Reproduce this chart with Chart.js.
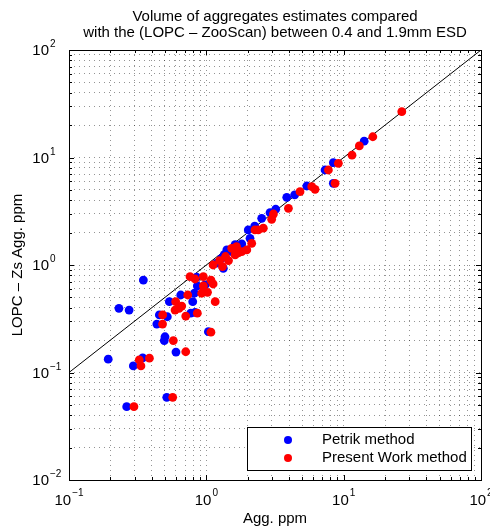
<!DOCTYPE html>
<html>
<head>
<meta charset="utf-8">
<script src="https://cdn.jsdelivr.net/npm/chart.js@4.4.1/dist/chart.umd.min.js"></script>
<style>
  html, body { margin: 0; padding: 0; background: #fff; }
  canvas { display: block; }
</style>
</head>
<body>
<canvas id="chart" width="490" height="531"></canvas>
<script>
// Petrik method (blue)
const petrikX = [0.348, 0.231, 0.274, 0.193, 0.294, 0.344, 0.263, 0.515, 0.601, 0.500,
                 0.494, 0.436, 0.455, 0.520, 0.538, 0.651, 0.796, 0.818, 0.770, 0.827,
                 0.860, 0.979, 0.851, 1.035, 1.19, 1.33, 1.29, 1.41, 1.53, 1.81,
                 2.02, 2.08, 2.53, 2.91, 3.85, 5.39, 8.41, 7.32, 14.1, 8.41,
                 1.35, 1.62, 2.25, 3.2, 4.4];
const petrikY = [0.724, 0.395, 0.381, 0.133, 0.115, 0.137, 0.0481, 0.0588, 0.155, 0.215,
                 0.198, 0.282, 0.343, 0.330, 0.456, 0.526, 0.456, 0.546, 0.356, 0.363,
                 0.638, 0.652, 0.769, 0.240, 1.04, 0.931, 1.15, 1.38, 1.33, 1.57,
                 2.12, 1.77, 2.72, 3.07, 4.26, 5.43, 8.95, 7.65, 14.2, 5.75,
                 1.25, 1.55, 2.3, 3.3, 4.5];

// Present Work method (red)
const presentX = [0.761, 0.827, 0.951, 1.08, 1.12, 0.951, 0.925, 1.02, 0.732, 1.16,
                  0.598, 0.662, 0.592, 0.633, 0.708, 0.860, 0.481, 0.480, 1.08, 0.575,
                  0.708, 0.385, 0.325, 0.334, 0.297, 0.569, 1.12, 1.31, 1.53, 1.62,
                  1.66, 1.81, 1.97, 2.14, 2.26, 2.39, 2.99, 3.08, 3.96, 4.81,
                  5.86, 6.19, 7.74, 8.66, 9.15, 26.5, 16.3, 13.0, 11.5,
                  1.38, 1.45, 1.25, 1.72, 2.6];
const presentY = [0.778, 0.741, 0.778, 0.724, 0.666, 0.638, 0.546, 0.557, 0.526, 0.456,
                  0.456, 0.415, 0.381, 0.395, 0.335, 0.356, 0.343, 0.282, 0.237, 0.198,
                  0.156, 0.136, 0.131, 0.115, 0.0481, 0.0588, 1.0, 0.964, 1.43, 1.24,
                  1.48, 1.33, 1.38, 1.59, 2.12, 2.12, 2.66, 2.98, 3.37, 4.81,
                  5.35, 5.06, 7.65, 5.75, 8.83, 26.7, 15.6, 12.8, 10.5,
                  1.2, 1.1, 1.1, 1.3, 2.2];

// 1:1 reference line
const lineX = [0.1, 100];
const lineY = [0.1, 100];

const xDecades = [-1, 0, 1, 2];
const yDecades = [-2, -1, 0, 1, 2];
const titleLines = ["Volume of aggregates estimates compared",
                    "with the (LOPC \u2013 ZooScan) between 0.4 and 1.9mm ESD"];
const xTitle = "Agg. ppm";
const yTitle = "LOPC \u2013 Zs Agg. ppm";
const seriesNames = ["Petrik method", "Present Work method"];

const FONT = "'Liberation Sans', Arial, Helvetica, sans-serif";

const toPoints = (xs, ys) => xs.map((x, i) => ({ x: x, y: ys[i] }));

// log ticks at 1..9 x 10^k so the dotted grid gets minor lines too
function decadeTicks(decades) {
	const ticks = [];
	for (let i = 0; i < decades.length; i++) {
		const p = Math.pow(10, decades[i]);
		ticks.push({ value: p, major: true });
		if (i < decades.length - 1) {
			for (let m = 2; m <= 9; m++) ticks.push({ value: m * p, major: false });
		}
	}
	return ticks;
}

function supText(exp) {
	return exp < 0 ? "\u2212" + (-exp) : String(exp);
}

const matlabLook = {
	id: "matlabLook",
	afterDraw: function (chart) {
		const ctx = chart.ctx;
		const area = chart.chartArea;
		const xs = chart.scales.x;
		const ys = chart.scales.y;

		ctx.save();
		ctx.setLineDash([]);

		// inward tick marks on all four sides
		ctx.strokeStyle = "#000";
		ctx.lineWidth = 1;
		ctx.beginPath();
		xs.ticks.forEach((t) => {
			const px = Math.round(xs.getPixelForValue(t.value)) + 0.5;
			const len = t.major ? 5 : 3;
			ctx.moveTo(px, area.bottom);
			ctx.lineTo(px, area.bottom - len);
			ctx.moveTo(px, area.top);
			ctx.lineTo(px, area.top + len);
		});
		ys.ticks.forEach((t) => {
			const py = Math.round(ys.getPixelForValue(t.value)) + 0.5;
			const len = t.major ? 5 : 3;
			ctx.moveTo(area.left, py);
			ctx.lineTo(area.left + len, py);
			ctx.moveTo(area.right, py);
			ctx.lineTo(area.right - len, py);
		});
		ctx.stroke();

		// axes box
		ctx.strokeRect(area.left + 0.5, area.top + 0.5, area.right - area.left, area.bottom - area.top);

		ctx.fillStyle = "#000";
		ctx.textAlign = "left";
		ctx.textBaseline = "alphabetic";

		// x tick labels 10^k
		xDecades.forEach((k) => {
			const px = xs.getPixelForValue(Math.pow(10, k));
			ctx.font = "15px " + FONT;
			const wb = ctx.measureText("10").width;
			ctx.font = "10px " + FONT;
			const ws = ctx.measureText(supText(k)).width;
			const x0 = px - (wb + ws + 1) / 2;
			ctx.font = "15px " + FONT;
			ctx.fillText("10", x0, 505);
			ctx.font = "10px " + FONT;
			ctx.fillText(supText(k), x0 + wb + 1, 496);
		});

		// y tick labels 10^k
		yDecades.forEach((k) => {
			const py = ys.getPixelForValue(Math.pow(10, k));
			ctx.font = "15px " + FONT;
			ctx.textAlign = "right";
			ctx.fillText("10", 49, py + 5);
			ctx.font = "10px " + FONT;
			ctx.textAlign = "left";
			ctx.fillText(supText(k), 50, py - 3);
		});

		// titles
		ctx.font = "15px " + FONT;
		ctx.textAlign = "center";
		ctx.textBaseline = "middle";
		const cx = (area.left + area.right) / 2;
		ctx.fillText(titleLines[0], cx, 17);
		ctx.fillText(titleLines[1], cx, 33);
		ctx.fillText(xTitle, cx, 519);

		ctx.save();
		ctx.translate(18, (area.top + area.bottom) / 2);
		ctx.rotate(-Math.PI / 2);
		ctx.fillText(yTitle, 0, 0);
		ctx.restore();

		// legend box
		ctx.fillStyle = "#fff";
		ctx.fillRect(247, 427, 224, 43);
		ctx.strokeStyle = "#000";
		ctx.strokeRect(247.5, 427.5, 224, 43);
		const colors = ["#0000ff", "#ff0000"];
		const rows = [440, 458];
		seriesNames.forEach((name, i) => {
			ctx.fillStyle = colors[i];
			ctx.beginPath();
			ctx.arc(288, rows[i], 4, 0, Math.PI * 2);
			ctx.fill();
			ctx.fillStyle = "#000";
			ctx.textAlign = "left";
			ctx.fillText(name, 322, rows[i]);
		});

		ctx.restore();
	}
};

const gridStyle = {
	display: true,
	color: "rgba(0, 0, 0, 0.42)",
	lineWidth: 1,
	drawTicks: false
};

const chart = new Chart(document.getElementById("chart").getContext("2d"), {
	type: "scatter",
	data: {
		datasets: [
			{
				label: seriesNames[1],
				data: toPoints(presentX, presentY),
				backgroundColor: "#ff0000",
				borderColor: "#ff0000",
				pointRadius: 4.4,
				pointBorderWidth: 0,
				order: 0
			},
			{
				label: seriesNames[0],
				data: toPoints(petrikX, petrikY),
				backgroundColor: "#0000ff",
				borderColor: "#0000ff",
				pointRadius: 4.4,
				pointBorderWidth: 0,
				order: 1
			},
			{
				label: "1:1",
				data: toPoints(lineX, lineY),
				showLine: true,
				borderColor: "#000",
				borderWidth: 1,
				pointRadius: 0,
				order: 2
			}
		]
	},
	options: {
		responsive: false,
		animation: false,
		devicePixelRatio: 1,
		layout: {
			padding: { left: 69, top: 50, right: 9, bottom: 51 }
		},
		plugins: {
			legend: { display: false },
			title: { display: false },
			tooltip: { enabled: false }
		},
		scales: {
			x: {
				type: "logarithmic",
				min: 0.1,
				max: 100,
				afterBuildTicks: (scale) => { scale.ticks = decadeTicks(xDecades); },
				ticks: { display: false },
				grid: gridStyle,
				border: { display: false, dash: [1, 4] }
			},
			y: {
				type: "logarithmic",
				min: 0.01,
				max: 100,
				afterBuildTicks: (scale) => { scale.ticks = decadeTicks(yDecades); },
				ticks: { display: false },
				grid: gridStyle,
				border: { display: false, dash: [1, 4] }
			}
		}
	},
	plugins: [matlabLook]
});
</script>
</body>
</html>
